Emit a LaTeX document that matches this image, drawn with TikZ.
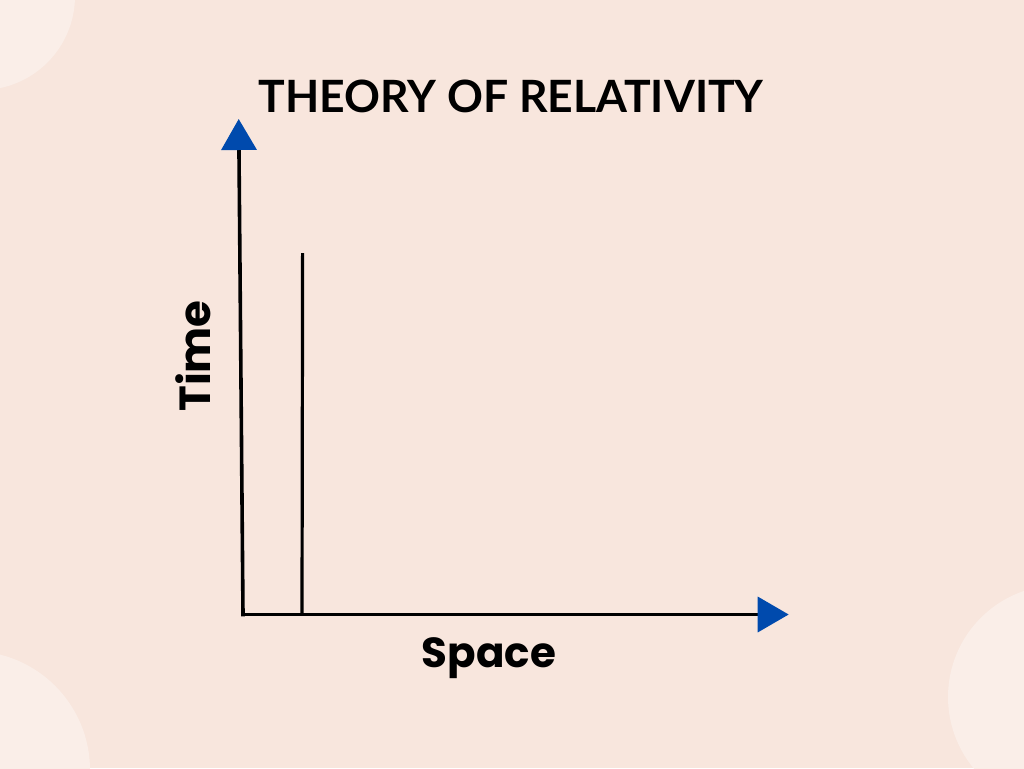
\documentclass[tikz,border=0pt]{standalone}
\usepackage{fontspec}
\setmainfont{Lato}
\newfontfamily\labelfont{Poppins}
\usetikzlibrary{arrows.meta}
\definecolor{bgpeach}{HTML}{F8E6DD}
\definecolor{circpeach}{HTML}{FAEEE8}
\definecolor{axisblue}{HTML}{004AAD}
\tikzset{
  axisline/.style={line width=3.6pt, black, -{Triangle[width=35pt,length=31pt,color=axisblue]}},
  plainline/.style={line width=3.2pt, black},
  titletext/.style={font=\bfseries\fontsize{44.5}{50}\selectfont, inner sep=0pt, anchor=base},
  labeltext/.style={font=\labelfont\bfseries\fontsize{42}{46}\selectfont, inner sep=0pt, anchor=base},
}
\begin{document}
\begin{tikzpicture}[x=1pt,y=-1pt]
\useasboundingbox (0,0) rectangle (1024,768);
\fill[bgpeach] (0,0) rectangle (1024,768);
\begin{scope}
\clip (0,0) rectangle (1024,768);
\fill[circpeach] (-19,-4) circle (94);
\fill[circpeach] (-29,770) circle (119);
\fill[circpeach] (1060,697) circle (112);
\end{scope}
\coordinate (origin) at (243,614.5);
\coordinate (ytip) at (238.7,119);
\coordinate (xtip) at (788.7,614.5);
\coordinate (wbot) at (302,614.5);
\coordinate (wtop) at (302.6,253);
\draw[plainline] (wbot) -- (wtop);
\draw[axisline, shorten <=-1.8pt] (origin) -- (ytip);
\draw[axisline, shorten <=-1.8pt] (origin) -- (xtip);
\node[titletext] (title) at (511,112) {THEORY OF RELATIVITY};
\node[labeltext] (space) at (489,667) {Space};
\node[labeltext, rotate=90, font=\labelfont\bfseries\fontsize{43.5}{48}\selectfont] (time) at (210,356) {Time};
\end{tikzpicture}
\end{document}
